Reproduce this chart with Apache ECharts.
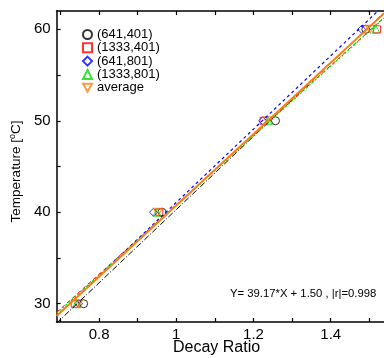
<!DOCTYPE html>
<html><head><meta charset="utf-8">
<script src="https://cdn.jsdelivr.net/npm/echarts@6/dist/echarts.min.js"></script>
<style>html,body{margin:0;padding:0;background:#fff}#c{width:384px;height:358px}</style>
</head><body><div id="c"></div>
<script>
// Temperatures (y) and decay ratios (x) per configuration
const temps = [30, 40, 50, 60];
const ratio641_401 = [0.760, 0.963, 1.257, 1.491];
const ratio1333_401 = [0.737, 0.956, 1.226, 1.520];
const ratio641_801 = [0.747, 0.941, 1.224, 1.480];
const ratio1333_801 = [0.742, 0.950, 1.238, 1.517];
const ratioAverage = [0.746, 0.952, 1.236, 1.502];
const seriesNames = ['(641,401)', '(1333,401)', '(641,801)', '(1333,801)', 'average'];
const xTicks = [0.7, 0.8, 0.9, 1.0, 1.1, 1.2, 1.3, 1.4, 1.5];
const xLabels = [0.8, 1, 1.2, 1.4];
const yTicks = [30, 35, 40, 45, 50, 55, 60];
const yLabels = [30, 40, 50, 60];
const equationText = 'Y= 39.17*X + 1.50 , |r|=0.998';

const XMIN = 0.69, XMAX = 1.538, YMIN = 28, YMAX = 62;
const colors = ['#000000', '#ff0000', '#0000ff', '#00e000', '#ff7f0e'];
const symbols = ['circle', 'rect', 'diamond', 'triangle', 'path://M0,0 L10,0 L5,9 Z'];
const lineTypes = [[6, 2, 1, 2], [4, 3], [3, 3], [2, 2], 'solid'];
const lineWidths = [1, 1, 1.2, 1.2, 2];
const allX = [ratio641_401, ratio1333_401, ratio641_801, ratio1333_801, ratioAverage];

function fit(xs, ys) {
  const n = xs.length;
  const mx = xs.reduce((a, b) => a + b, 0) / n;
  const my = ys.reduce((a, b) => a + b, 0) / n;
  let sxy = 0, sxx = 0;
  for (let i = 0; i < n; i++) { sxy += (xs[i] - mx) * (ys[i] - my); sxx += (xs[i] - mx) ** 2; }
  const k = sxy / sxx;
  return { k, b: my - k * mx };
}

const series = [];
allX.forEach((xs, i) => {
  const f = fit(xs, temps);
  series.push({
    name: seriesNames[i] + ' fit', type: 'line', showSymbol: false, silent: true, z: 3,
    data: [[XMIN, f.k * XMIN + f.b], [XMAX, f.k * XMAX + f.b]],
    lineStyle: { color: colors[i], width: lineWidths[i], type: lineTypes[i] },
    clip: true
  });
});
allX.forEach((xs, i) => {
  series.push({
    name: seriesNames[i], type: 'scatter', symbol: symbols[i],
    symbolSize: i === 1 ? 7 : (i === 4 ? [9, 8] : 8), z: 2,
    data: xs.map((x, j) => [x, temps[j]]),
    itemStyle: { color: 'rgba(255,255,255,0)', borderColor: colors[i], borderWidth: 1 }
  });
});

const chart = echarts.init(document.getElementById('c'));
const axisCommon = {
  type: 'value',
  axisLine: { show: true, lineStyle: { color: '#000', width: 1.5 } },
  splitLine: { show: false },
  axisTick: { show: true, inside: true, length: 4, lineStyle: { color: '#000', width: 1.2 } }
};
chart.setOption({
  animation: false,
  backgroundColor: '#fff',
  grid: { left: 56, right: 0, top: 11, bottom: 36 },
  legend: {
    orient: 'vertical', left: 77, top: 23, itemWidth: 9, itemHeight: 9, itemGap: 0.3,
    data: seriesNames,
    textStyle: { fontFamily: 'Liberation Sans', fontSize: 13, lineHeight: 13, color: '#000' },
    selectedMode: false
  },
  xAxis: [
    Object.assign({}, axisCommon, {
      min: XMIN, max: XMAX, position: 'bottom',
      axisTick: Object.assign({}, axisCommon.axisTick, { customValues: xTicks }),
      axisLabel: { customValues: xLabels, margin: 5, fontFamily: 'Liberation Sans', fontSize: 15, color: '#000' }
    }),
    Object.assign({}, axisCommon, {
      min: XMIN, max: XMAX, position: 'top',
      axisTick: Object.assign({}, axisCommon.axisTick, { customValues: xTicks }),
      axisLabel: { show: false }
    })
  ],
  yAxis: Object.assign({}, axisCommon, {
    min: YMIN, max: YMAX,
    axisTick: Object.assign({}, axisCommon.axisTick, { customValues: yTicks }),
    axisLabel: { customValues: yLabels, margin: 6, fontFamily: 'Liberation Sans', fontSize: 15, color: '#000' },
    name: 'Temperature [{sup|o}C]', nameLocation: 'middle', nameGap: 29,
    nameTextStyle: {
      fontFamily: 'Liberation Sans', fontSize: 13.5, color: '#000', padding: [0, 10, 0, 0],
      rich: { sup: { fontFamily: 'Liberation Sans', fontSize: 9, verticalAlign: 'top', padding: [0, 0, 7, 0], color: '#000' } }
    }
  }),
  graphic: [
    { type: 'text', left: 173, top: 340, style: { text: 'Decay Ratio', font: '16px "Liberation Sans"', fill: '#000' } },
    { type: 'text', left: 230, top: 288, style: { text: equationText, font: '11.3px "Liberation Sans"', fill: '#000' } }
  ],
  series: series
});
</script></body></html>
